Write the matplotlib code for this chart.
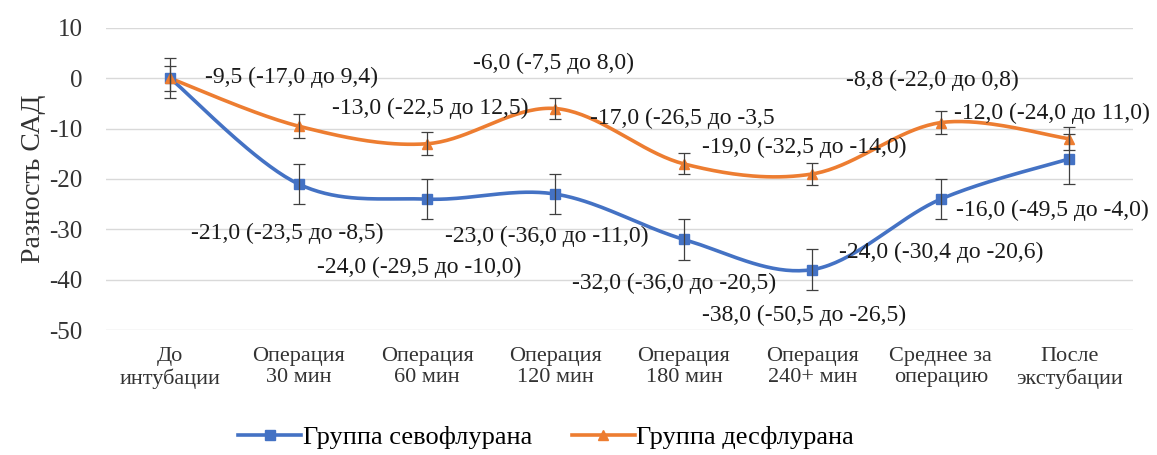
import numpy as np
import matplotlib
matplotlib.use("Agg")
import matplotlib.pyplot as plt
from matplotlib.lines import Line2D

plt.rcParams['font.family'] = ['Liberation Serif', 'DejaVu Serif']

categories = ["До\nинтубации", "Операция\n30 мин", "Операция\n60 мин", "Операция\n120 мин",
              "Операция\n180 мин", "Операция\n240+ мин", "Среднее за\nоперацию", "После\nэкстубации"]
sevo = [0, -21.0, -24.0, -23.0, -32.0, -38.0, -24.0, -16.0]
sevo_err = [4, 4, 4, 4, 4, 4, 4, 5]
des = [0, -9.5, -13.0, -6.0, -17.0, -19.0, -8.8, -12.0]
des_err = [2.5, 2.4, 2.3, 2.1, 2.1, 2.1, 2.3, 2.3]

sevo_labels = ["", "-21,0 (-23,5 до -8,5)", "-24,0 (-29,5 до -10,0)", "-23,0 (-36,0 до -11,0)",
               "-32,0 (-36,0 до -20,5)", "-38,0 (-50,5 до -26,5)", "-24,0 (-30,4 до -20,6)",
               "-16,0 (-49,5 до -4,0)"]
des_labels = ["", "-9,5 (-17,0 до 9,4)", "-13,0 (-22,5 до 12,5)", "-6,0 (-7,5 до 8,0)",
              "-17,0 (-26,5 до -3,5", "-19,0 (-32,5 до -14,0)", "-8,8 (-22,0 до 0,8)",
              "-12,0 (-24,0 до 11,0)"]

# label anchors (left edge x in category units, centre y in data units)
des_lab_pos = [None, (0.27, 0.2), (1.26, -6.0), (2.36, 3.0), (3.27, -7.9), (4.14, -13.7), (5.26, -0.4), (6.10, -7.0)]
sevo_lab_pos = [None, (0.16, -30.8), (1.14, -37.6), (2.14, -31.4), (3.13, -40.7), (4.14, -47.1), (5.21, -34.6), (6.12, -26.2)]

BLUE = "#4472C4"
ORANGE = "#ED7D31"


def smooth(xs, ys, n=40):
    xs = np.asarray(xs, float); ys = np.asarray(ys, float)
    px = np.concatenate([[xs[0]], xs, [xs[-1]]])
    py = np.concatenate([[ys[0]], ys, [ys[-1]]])
    outx, outy = [], []
    t = np.linspace(0, 1, n)
    for i in range(1, len(px) - 2):
        p0 = np.array([px[i], py[i]]); p3 = np.array([px[i + 1], py[i + 1]])
        c1 = p0 + (np.array([px[i + 1], py[i + 1]]) - np.array([px[i - 1], py[i - 1]])) / 6
        c2 = p3 - (np.array([px[i + 2], py[i + 2]]) - np.array([px[i], py[i]])) / 6
        b = ((1 - t) ** 3)[:, None] * p0 + (3 * (1 - t) ** 2 * t)[:, None] * c1 + \
            (3 * (1 - t) * t ** 2)[:, None] * c2 + (t ** 3)[:, None] * p3
        outx.extend(b[:, 0]); outy.extend(b[:, 1])
    return np.array(outx), np.array(outy)


fig = plt.figure(figsize=(11.57, 4.55), dpi=100)
ax = fig.add_axes([0.0916, 0.2747, 0.888, 0.6638])
x = np.arange(len(categories))

for vals, errs, col, mk in [(sevo, sevo_err, BLUE, 's'), (des, des_err, ORANGE, '^')]:
    sx, sy = smooth(x, vals)
    ax.plot(sx, sy, color=col, lw=2.6, zorder=3, solid_capstyle='round')
    ax.plot(x, vals, linestyle='none', marker=mk, color=col, markersize=7.5, zorder=4)
    ax.errorbar(x, vals, yerr=errs, fmt='none', ecolor='#404040', elinewidth=0.9,
                capsize=4, capthick=0.9, zorder=5)

fs = 17
for i, lab in enumerate(des_labels):
    if lab:
        xx, yy = des_lab_pos[i]
        ax.text(xx, yy, lab, fontsize=fs, va='center', ha='left', color='#1a1a1a', zorder=6)
for i, lab in enumerate(sevo_labels):
    if lab:
        xx, yy = sevo_lab_pos[i]
        ax.text(xx, yy, lab, fontsize=fs, va='center', ha='left', color='#1a1a1a', zorder=6)

ax.set_xlim(-0.5, len(categories) - 0.5)
ax.set_ylim(-50, 10)
ax.set_yticks(np.arange(-50, 11, 10))
ax.set_yticklabels([str(v) for v in range(-50, 11, 10)], fontsize=18)
ax.set_xticks(x)
ax.set_xticklabels(categories, fontsize=16, linespacing=1.2)
ax.tick_params(axis='y', length=0, pad=17, colors='#333333')
ax.tick_params(axis='x', length=0, pad=12, colors='#333333')
ax.grid(axis='y', color='#D9D9D9', lw=1.0)
ax.set_axisbelow(True)
for s in ax.spines.values():
    s.set_visible(False)
ax.set_ylabel("Разность САД", fontsize=20, color='#333333', labelpad=2)

handles = [Line2D([0], [0], color=BLUE, lw=2.6, marker='s', markersize=7.5),
           Line2D([0], [0], color=ORANGE, lw=2.6, marker='^', markersize=7.5)]
fig.legend(handles, ["Группа севофлурана", "Группа десфлурана"], loc='center',
           bbox_to_anchor=(0.472, 0.038), ncol=2, frameon=False, fontsize=19,
           handlelength=2.4, columnspacing=1.5, handletextpad=0.05)

fig.savefig("out.png", dpi=100)
